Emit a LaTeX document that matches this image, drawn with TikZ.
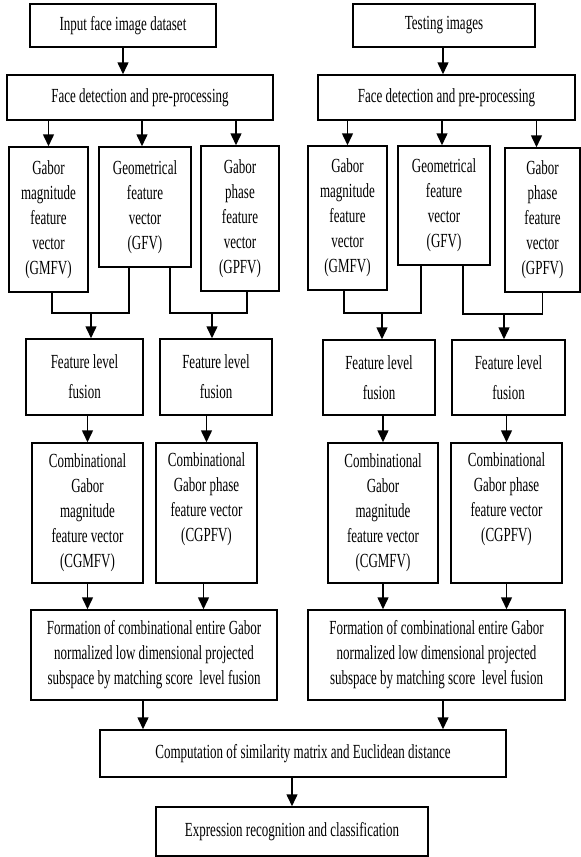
\documentclass[tikz,border=0pt]{standalone}
\usepackage{fontspec}
\setmainfont{Liberation Serif}[FakeStretch=0.65]
\usetikzlibrary{arrows.meta}

\begin{document}
\begin{tikzpicture}[x=1pt, y=-1pt, line width=1.5pt,
  >={Triangle[length=12pt,width=11pt]},
  font=\fontsize{20}{25}\selectfont,
  box/.style={draw, shape=rectangle, align=center, inner sep=2pt}]
\useasboundingbox (0,0) rectangle (581,857);

% training side
\node (input) [box, minimum width=186, minimum height=43] at (123,25.5) {Input face image dataset};
\node (facedet1) [box, minimum width=266, minimum height=45] at (140,97.5) {Face detection and pre-processing};
\node (gmfv1) [box, minimum width=79, minimum height=145] at (48.5,219.5) {Gabor\\ magnitude\\ feature\\ vector\\ (GMFV)};
\node (gfv1) [box, minimum width=92, minimum height=120] at (145,207) {Geometrical\\ feature\\ vector\\ (GFV)};
\node (gpfv1) [box, minimum width=78, minimum height=145] at (240,218.5) {Gabor\\ phase\\ feature\\ vector\\ (GPFV)};
\node (fusionm1) [box, minimum width=117, minimum height=76] at (84.5,377) {Feature level\\[5pt] fusion};
\node (fusionp1) [box, minimum width=112, minimum height=76] at (216,377) {Feature level\\[5pt] fusion};
\node (cgmfv1) [box, minimum width=111, minimum height=140] at (87.5,513) {Combinational\\ Gabor\\ magnitude\\ feature vector\\ (CGMFV)};
\node (cgpfv1) [box, minimum width=101, minimum height=140] at (206.5,513) {Combinational\\ Gabor phase\\ feature vector\\ (CGPFV)\\ \strut};
\node (formation1) [box, minimum width=246, minimum height=90] at (154,655) {Formation of combinational entire Gabor\\ normalized low dimensional projected\\ subspace by matching score \ level fusion};

% testing side
\node (testimg) [box, minimum width=182, minimum height=43] at (444,25.5) {Testing images};
\node (facedet2) [box, minimum width=257, minimum height=45] at (446.5,97.5) {Face detection and pre-processing};
\node (gmfv2) [box, minimum width=79, minimum height=144] at (347.5,218) {Gabor\\ magnitude\\ feature\\ vector\\ (GMFV)};
\node (gfv2) [box, minimum width=92, minimum height=119] at (444,205.5) {Geometrical\\ feature\\ vector\\ (GFV)};
\node (gpfv2) [box, minimum width=75, minimum height=144] at (542.5,220) {Gabor\\ phase\\ feature\\ vector\\ (GPFV)};
\node (fusionm2) [box, minimum width=112, minimum height=75] at (379,377.5) {Feature level\\[5pt] fusion};
\node (fusionp2) [box, minimum width=113, minimum height=75] at (508.5,377.5) {Feature level\\[5pt] fusion};
\node (cgmfv2) [box, minimum width=110, minimum height=140] at (383,513) {Combinational\\ Gabor\\ magnitude\\ feature vector\\ (CGMFV)};
\node (cgpfv2) [box, minimum width=111, minimum height=140] at (506.5,513) {Combinational\\ Gabor phase\\ feature vector\\ (CGPFV)\\ \strut};
\node (formation2) [box, minimum width=257, minimum height=90] at (436.5,655) {Formation of combinational entire Gabor\\ normalized low dimensional projected\\ subspace by matching score \ level fusion};

% common part
\node (simcomp) [box, minimum width=406, minimum height=47] at (303,753.5) {Computation of similarity matrix and Euclidean distance};
\node (expr) [box, minimum width=272, minimum height=49] at (292,831.5) {Expression recognition and classification};

\coordinate (join1) at (91,313);
\coordinate (join2) at (212,313);
\coordinate (join3) at (382,313);
\coordinate (join4) at (504,314);

\draw[->] (input) -- (input |- facedet1.north);
\draw[->] (facedet1.south -| gmfv1.north) -- (gmfv1.north);
\draw[->] ([xshift=-3]facedet1.south -| gfv1.north) -- ([xshift=-3]gfv1.north);
\draw[->] ([xshift=-4]facedet1.south -| gpfv1.north) -- ([xshift=-4]gpfv1.north);
\draw ([xshift=3.5]gmfv1.south) |- (join1) -| ([xshift=-16]gfv1.south);
\draw ([xshift=25]gfv1.south) |- (join2) -| ([xshift=7]gpfv1.south);
\draw[->] (join1) -- (join1 |- fusionm1.north);
\draw[->] (join2) -- (join2 |- fusionp1.north);
\draw[->] (cgmfv1.north |- fusionm1.south) -- (cgmfv1.north);
\draw[->] (cgpfv1.north |- fusionp1.south) -- (cgpfv1.north);
\draw[->] (cgmfv1.south) -- (cgmfv1.south |- formation1.north);
\draw[->] ([xshift=-3]cgpfv1.south) -- ([xshift=-3]cgpfv1.south |- formation1.north);

\draw[->] ([xshift=-1]testimg.south) -- ([xshift=-1]testimg.south |- facedet2.north);
\draw[->] (facedet2.south -| gmfv2.north) -- (gmfv2.north);
\draw[->] ([xshift=-2]facedet2.south -| gfv2.north) -- ([xshift=-2]gfv2.north);
\draw[->] ([xshift=-6]facedet2.south -| gpfv2.north) -- ([xshift=-6]gpfv2.north);
\draw ([xshift=-3.5]gmfv2.south) |- (join3) -| ([xshift=-23]gfv2.south);
\draw ([xshift=19]gfv2.south) |- (join4) -| (gpfv2.south);
\draw[->] (join3) -- (join3 |- fusionm2.north);
\draw[->] (join4) -- (join4 |- fusionp2.north);
\draw[->] (cgmfv2.north |- fusionm2.south) -- (cgmfv2.north);
\draw[->] (cgpfv2.north |- fusionp2.south) -- (cgpfv2.north);
\draw[->] (cgmfv2.south) -- (cgmfv2.south |- formation2.north);
\draw[->] (cgpfv2.south) -- (cgpfv2.south |- formation2.north);

\draw[->] ([xshift=-11]formation1.south) -- ([xshift=-11]formation1.south |- simcomp.north);
\draw[->] ([xshift=6.5]formation2.south) -- ([xshift=6.5]formation2.south |- simcomp.north);
\draw[->] (simcomp.south -| expr.north) -- (expr.north);

\end{tikzpicture}
\end{document}
